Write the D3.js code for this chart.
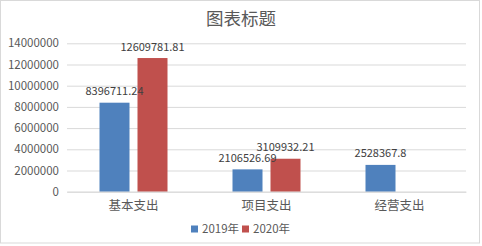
<!DOCTYPE html>
<html><head><meta charset="utf-8">
<script src="https://cdn.jsdelivr.net/npm/d3@7/dist/d3.min.js"></script>
<style>body{margin:0;background:#fff}svg{display:block}</style>
</head><body>
<svg id="c" width="482" height="246"></svg>
<script>
const title = "图表标题";
const categories = ["基本支出", "项目支出", "经营支出"];
const seriesNames = ["2019年", "2020年"];
const values2019 = [8396711.24, 2106526.69, 2528367.8];
const values2020 = [12609781.81, 3109932.21, null];
const labels2019 = ["8396711.24", "2106526.69", "2528367.8"];
const labels2020 = ["12609781.81", "3109932.21", ""];
const yTicks = [0, 2000000, 4000000, 6000000, 8000000, 10000000, 12000000, 14000000];
const colors = ["#4f81bd", "#c0504d"];

(function(){
const svg = d3.select("#c");
const font = "'Noto Sans CJK SC', 'DejaVu Sans', sans-serif";
svg.append("rect").attr("x",0.5).attr("y",0.5).attr("width",479).attr("height",242.5)
  .attr("fill","#fff").attr("stroke","#d9d9d9");

const pL = 67, pR = 466, pT = 43.3, pB = 191.7;
const x = d3.scaleBand().domain(categories).range([pL, pR]);
const y = d3.scaleLinear().domain([0, 14000000]).range([pB, pT]);
const barW = 30, gap = 8;

svg.append("text").attr("x", 241).attr("y", 24.5).attr("text-anchor","middle")
  .attr("font-family", font).attr("font-size", 17.5).attr("fill","#595959").text(title);

const yAxis = d3.axisLeft(y).tickValues(yTicks).tickSize(-(pR-pL)).tickFormat(d3.format("d"));
const ga = svg.append("g").attr("transform",`translate(${pL},0)`).call(yAxis);
ga.select(".domain").remove();
ga.selectAll(".tick line").attr("stroke","#d9d9d9");
ga.selectAll(".tick text").attr("x",-8).attr("font-family",font).attr("font-size",11.5).attr("fill","#595959");

const series = [values2019, values2020];
const labs = [labels2019, labels2020];
const gBars = svg.append("g"), gLabs = svg.append("g");
series.forEach((vals, si) => {
  const data = categories.map((c,i)=>({c, v: vals[i], l: labs[si][i]})).filter(d=>d.v!=null);
  const off = x.bandwidth()/2 + (si===0 ? -gap/2 - barW : gap/2);
  gBars.append("g").selectAll("rect").data(data).join("rect")
    .attr("x", d => x(d.c) + off).attr("y", d => y(d.v))
    .attr("width", barW).attr("height", d => pB - y(d.v)).attr("fill", colors[si]);
  gLabs.append("g").selectAll("text").data(data).join("text")
    .attr("x", d => x(d.c) + off + barW/2).attr("y", d => y(d.v) - 7.5)
    .attr("text-anchor","middle").attr("font-family",font).attr("font-size",11)
    .attr("fill","#404040").text(d => d.l);
});

const xa = svg.append("g").attr("transform",`translate(0,${pB})`).call(d3.axisBottom(x).tickSize(0));
xa.select(".domain").attr("stroke","#d9d9d9");
xa.selectAll(".tick text").attr("dy", 0).attr("y", 18).attr("font-family",font).attr("font-size",12.5).attr("fill","#595959");

const legX = [191, 242];
seriesNames.forEach((n, i) => {
  svg.append("rect").attr("x", legX[i]).attr("y", 225.5).attr("width", 7).attr("height", 7).attr("fill", colors[i]);
  svg.append("text").attr("x", legX[i] + 11).attr("y", 233).attr("font-family",font).attr("font-size",11.5)
    .attr("fill","#595959").text(n);
});
})();
</script>
</body></html>
